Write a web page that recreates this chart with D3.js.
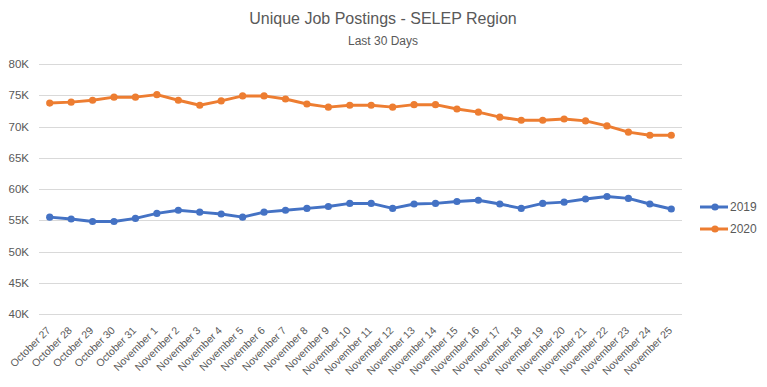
<!DOCTYPE html>
<html>
<head>
<meta charset="utf-8">
<script src="https://cdn.jsdelivr.net/npm/d3@7"></script>
<style>
  body { margin: 0; background: #fff; }
  text { font-family: "Liberation Sans", Arial, sans-serif; fill: #595959; }
</style>
</head>
<body>
<div id="chart"></div>
<script>
// days shown on the x axis
var days = ["October 27", "October 28", "October 29", "October 30", "October 31",
  "November 1", "November 2", "November 3", "November 4", "November 5", "November 6",
  "November 7", "November 8", "November 9", "November 10", "November 11", "November 12",
  "November 13", "November 14", "November 15", "November 16", "November 17", "November 18",
  "November 19", "November 20", "November 21", "November 22", "November 23", "November 24",
  "November 25"];

// unique job postings
var postings2019 = [55500, 55200, 54800, 54800, 55300, 56100, 56600, 56300, 56000, 55500,
  56300, 56600, 56900, 57200, 57700, 57700, 56900, 57600, 57700, 58000,
  58200, 57600, 56900, 57700, 57900, 58400, 58800, 58500, 57600, 56800];
var postings2020 = [73750, 73900, 74200, 74700, 74700, 75100, 74200, 73400, 74100, 74900,
  74900, 74400, 73600, 73100, 73400, 73400, 73100, 73500, 73500, 72800,
  72300, 71500, 71000, 71000, 71200, 70900, 70100, 69100, 68600, 68600];

var yTicks = [40000, 45000, 50000, 55000, 60000, 65000, 70000, 75000, 80000];

var seriesNames = ["2019", "2020"];
var seriesColors = ["#4472C4", "#ED7D31"];

var width = 767, height = 387;
var margin = { top: 64, right: 85, bottom: 73, left: 39 };
var plotW = width - margin.left - margin.right;
var plotH = height - margin.top - margin.bottom;

var svg = d3.select("#chart").append("svg")
  .attr("width", width)
  .attr("height", height);

var x = d3.scalePoint()
  .domain(days)
  .range([0, plotW])
  .padding(0.5);

var y = d3.scaleLinear()
  .domain([40000, 80000])
  .range([plotH, 0]);

var g = svg.append("g")
  .attr("transform", "translate(" + margin.left + "," + margin.top + ")");

// gridlines
g.selectAll(".grid")
  .data(yTicks)
  .enter().append("line")
  .attr("x1", 0)
  .attr("x2", plotW)
  .attr("y1", function(d) { return Math.round(y(d)) + 0.5; })
  .attr("y2", function(d) { return Math.round(y(d)) + 0.5; })
  .attr("stroke", "#D9D9D9")
  .attr("stroke-width", 1);

// y axis labels
var yAxis = g.append("g")
  .call(d3.axisLeft(y).tickValues(yTicks).tickSize(0).tickPadding(10)
    .tickFormat(function(d) { return (d / 1000) + "K"; }));
yAxis.select(".domain").remove();
yAxis.selectAll("text")
  .style("font-size", "11.5px")
  .attr("fill", "#595959");

// x axis labels, slanted
var xAxis = g.append("g")
  .attr("transform", "translate(0," + plotH + ")")
  .call(d3.axisBottom(x).tickSize(0));
xAxis.select(".domain").remove();
xAxis.selectAll("text")
  .style("font-size", "10.5px")
  .attr("fill", "#595959")
  .attr("text-anchor", "end")
  .attr("dy", 0)
  .attr("y", 0)
  .attr("transform", "translate(1,17) rotate(-45)");

var series = [postings2019, postings2020];

var line = d3.line()
  .x(function(d, i) { return x(days[i]); })
  .y(function(d) { return y(d); });

series.forEach(function(vals, s) {
  g.append("path")
    .datum(vals)
    .attr("fill", "none")
    .attr("stroke", seriesColors[s])
    .attr("stroke-width", 3)
    .attr("stroke-linejoin", "round")
    .attr("d", line);

  g.selectAll(".dot" + s)
    .data(vals)
    .enter().append("circle")
    .attr("cx", function(d, i) { return x(days[i]); })
    .attr("cy", function(d) { return y(d); })
    .attr("r", 3.6)
    .attr("fill", seriesColors[s]);
});

// legend
var legend = svg.append("g")
  .attr("transform", "translate(700,207)");

seriesNames.forEach(function(name, i) {
  var row = legend.append("g").attr("transform", "translate(0," + (i * 22) + ")");
  row.append("line")
    .attr("x1", 0).attr("x2", 28)
    .attr("stroke", seriesColors[i])
    .attr("stroke-width", 3);
  row.append("circle")
    .attr("cx", 15).attr("r", 3.6)
    .attr("fill", seriesColors[i]);
  row.append("text")
    .attr("x", 30)
    .attr("dy", "0.35em")
    .style("font-size", "12px")
    .text(name);
});

// titles
svg.append("text")
  .attr("x", 383)
  .attr("y", 24)
  .attr("text-anchor", "middle")
  .style("font-size", "16px")
  .text("Unique Job Postings - SELEP Region");

svg.append("text")
  .attr("x", 383)
  .attr("y", 45)
  .attr("text-anchor", "middle")
  .style("font-size", "12px")
  .text("Last 30 Days");
</script>
</body>
</html>
